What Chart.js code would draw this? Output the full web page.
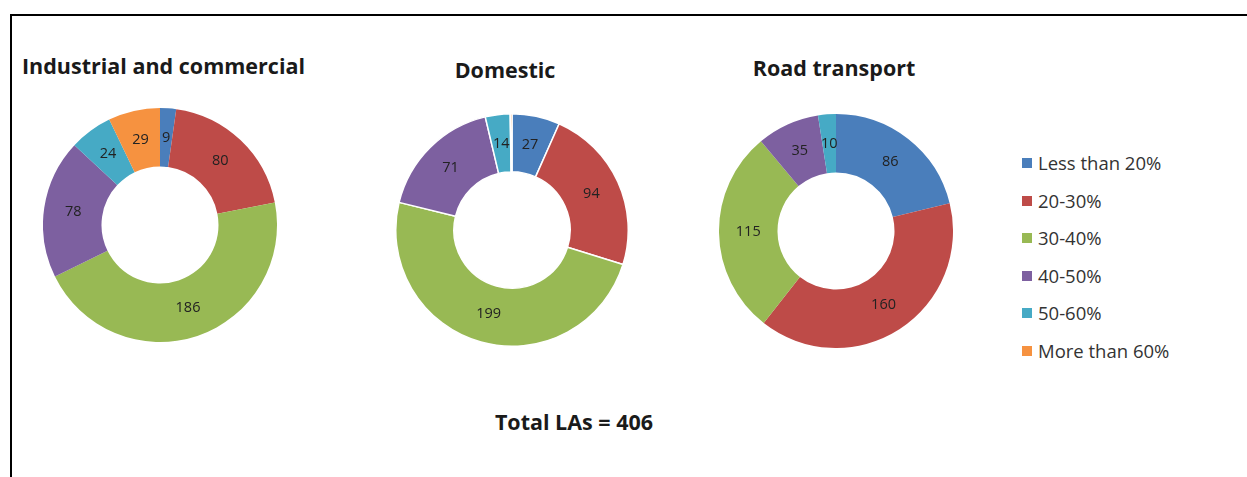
<!DOCTYPE html>
<html>
<head>
<meta charset="utf-8">
<script src="https://cdn.jsdelivr.net/npm/chart.js@4.4.1/dist/chart.umd.min.js"></script>
<style>
    body { margin: 0; background: #fff; font-family: "Open Sans", sans-serif; }
    #frame {
        position: absolute; left: 10px; top: 14px; width: 1250px; height: 480px;
        border-top: 2px solid #000; border-left: 2px solid #000;
    }
    .title {
        position: absolute; width: 300px; height: 28px; line-height: 28px;
        font-weight: bold; font-size: 21.5px; color: #1a1a1a; white-space: nowrap; text-align: center;
    }
    .box { position: absolute; }
    #legend { position: absolute; left: 1022px; top: 150px; font-size: 18.5px; color: #333; }
    #legend div { height: 37.5px; display: flex; align-items: flex-start; line-height: 25px; }
    #legend span.sw { width: 10px; height: 10px; margin: 8px 6px 0 0; display: inline-block; }
</style>
</head>
<body>
<div id="frame"></div>

<div class="title" style="left:12px; top:52px; text-align:left; padding-left:10px;">Industrial and commercial</div>
<div class="title" style="left:355px; top:56px;">Domestic</div>
<div class="title" style="left:684px; top:54px;">Road transport</div>

<div class="box" style="left:43px; top:108px; width:234px; height:234px;"><canvas id="chartIndustrial"></canvas></div>
<div class="box" style="left:395px; top:113px; width:234px; height:234px;"><canvas id="chartDomestic"></canvas></div>
<div class="box" style="left:719px; top:114px; width:234px; height:234px;"><canvas id="chartRoad"></canvas></div>

<div id="legend"></div>
<div class="title" style="left:424px; top:408px;">Total LAs = 406</div>

<script>
// ==============================
// DATA
// ==============================
const categories = ["Less than 20%", "20-30%", "30-40%", "40-50%", "50-60%", "More than 60%"];
const industrialValues = [9, 80, 186, 78, 24, 29];
const domesticValues = [27, 94, 199, 71, 14, 1];
const roadValues = [86, 160, 115, 35, 10, 0];

const colors = ["#4a7ebb", "#be4b48", "#98b954", "#7d60a0", "#46aac5", "#f69240"];

// value labels in the middle of each slice (very thin slices stay unlabelled, like the original)
const sliceLabels = {
    id: "sliceLabels",
    afterDatasetsDraw(chart) {
        const ctx = chart.ctx;
        const meta = chart.getDatasetMeta(0);
        const data = chart.data.datasets[0].data;
        ctx.save();
        ctx.font = "14.5px 'Open Sans', sans-serif";
        ctx.fillStyle = "#222";
        ctx.textAlign = "center";
        ctx.textBaseline = "middle";
        meta.data.forEach((arc, i) => {
            if (data[i] <= 1) return;
            const p = arc.getCenterPoint();
            ctx.fillText(String(data[i]), p.x, p.y);
        });
        ctx.restore();
    },
};

function makeDoughnut(id, values, border) {
    new Chart(document.getElementById(id), {
        type: "doughnut",
        data: {
            labels: categories,
            datasets: [{
                data: values,
                backgroundColor: colors,
                borderColor: "#fff",
                borderWidth: border,
            }],
        },
        options: {
            responsive: true,
            maintainAspectRatio: false,
            animation: false,
            cutout: "50%",
            layout: { padding: 0 },
            plugins: { legend: { display: false }, tooltip: { enabled: false } },
        },
        plugins: [sliceLabels],
    });
}

makeDoughnut("chartIndustrial", industrialValues, 0);
makeDoughnut("chartDomestic", domesticValues, 1.5);
makeDoughnut("chartRoad", roadValues, 0);

// ==============================
// LEGEND
// ==============================
const legend = document.getElementById("legend");
categories.forEach((c, i) => {
    const row = document.createElement("div");
    row.innerHTML = '<span class="sw" style="background:' + colors[i] + '"></span>' + c;
    legend.appendChild(row);
});
</script>
</body>
</html>
